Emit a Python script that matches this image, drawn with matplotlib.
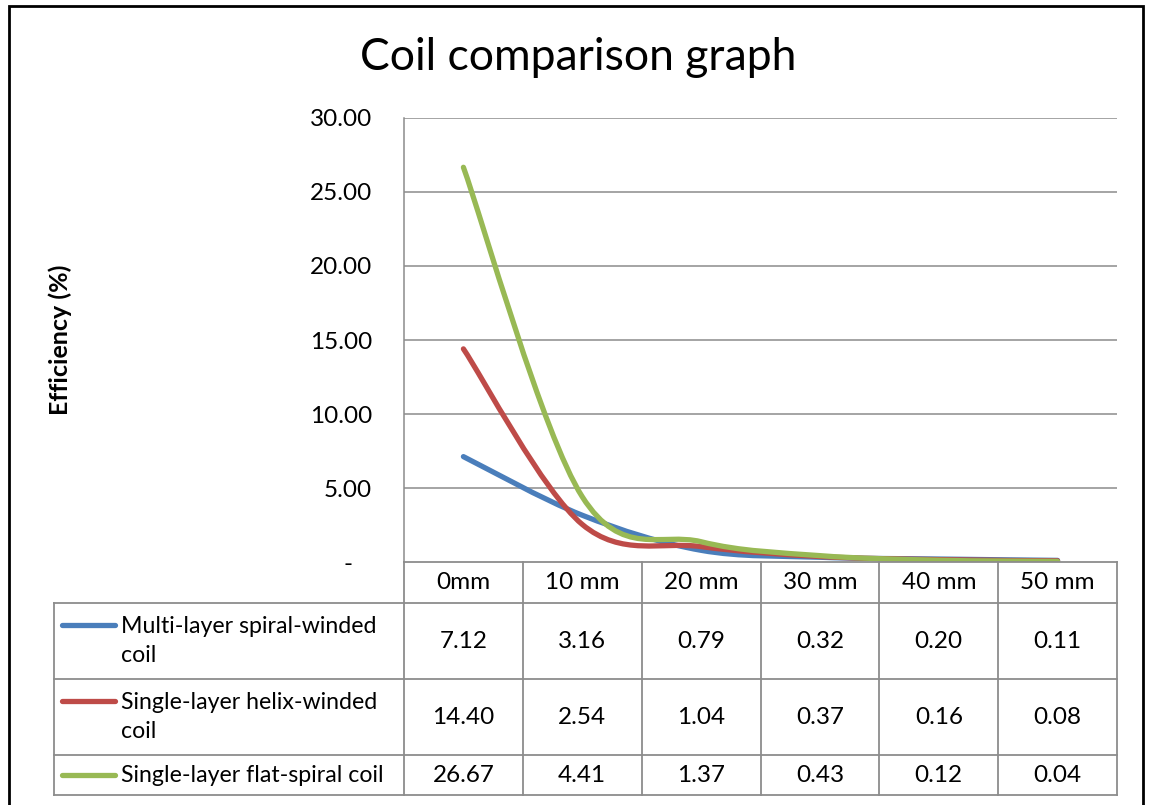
import numpy as np
import matplotlib
matplotlib.use("Agg")
import matplotlib.pyplot as plt
from matplotlib.path import Path
from matplotlib.patches import PathPatch, Rectangle
from matplotlib.lines import Line2D

plt.rcParams['font.family'] = ['Lato', 'DejaVu Sans']

# Data
distances = ['0mm', '10 mm', '20 mm', '30 mm', '40 mm', '50 mm']
multi_layer = [7.12, 3.16, 0.79, 0.32, 0.20, 0.11]
helix = [14.40, 2.54, 1.04, 0.37, 0.16, 0.08]
flat_spiral = [26.67, 4.41, 1.37, 0.43, 0.12, 0.04]
series_names = ['Multi-layer spiral-winded\ncoil',
                'Single-layer helix-winded\ncoil',
                'Single-layer flat-spiral coil']
series_colors = ['#4A7EBB', '#BE4B48', '#98B954']
yticks = [0, 5, 10, 15, 20, 25, 30]

W, H = 1149, 805
fig = plt.figure(figsize=(W / 100, H / 100), dpi=100)


def smooth_path(xs, ys):
    # Catmull-Rom style bezier segments, like a spreadsheet "smoothed line"
    pts = np.column_stack([xs, ys])
    verts = [pts[0]]
    codes = [Path.MOVETO]
    n = len(pts)
    for i in range(n - 1):
        p0 = pts[i - 1] if i > 0 else pts[i]
        p1, p2 = pts[i], pts[i + 1]
        p3 = pts[i + 2] if i + 2 < n else pts[i + 1]
        c1 = p1 + (p2 - p0) / 6.0
        c2 = p2 - (p3 - p1) / 6.0
        verts += [c1, c2, p2]
        codes += [Path.CURVE4] * 3
    return Path(verts, codes)


num_fs = 17.5
name_fs = 16.7

# plot area
px0, px1, py_top, py_bot = 404, 1117, 118, 562
ax = fig.add_axes([px0 / W, 1 - py_bot / H, (px1 - px0) / W, (py_bot - py_top) / H])
ncat = len(distances)
ax.set_xlim(0, ncat)
ax.set_ylim(0, 30)
ax.set_yticks(yticks)
ax.set_yticklabels(['-   ' if v == 0 else f'{v:.2f}' for v in yticks], fontsize=num_fs)
ax.tick_params(axis='y', length=0, pad=23)
ax.set_xticks([])
for v in yticks[1:]:
    ax.axhline(v, color='#8C8C8C', lw=1.1, zorder=1)
for s in ['top', 'right', 'bottom']:
    ax.spines[s].set_visible(False)
ax.spines['left'].set_color('#8C8C8C')
ax.spines['left'].set_linewidth(1.1)

xc = np.arange(ncat) + 0.5
for vals, col in zip([multi_layer, helix, flat_spiral], series_colors):
    ax.add_patch(PathPatch(smooth_path(xc, vals), fill=False, edgecolor=col,
                           lw=3.8, capstyle='round', zorder=3))

fig.text(60 / W, 1 - 340 / H, 'Efficiency (%)', rotation=90, ha='center', va='center',
         fontsize=18, fontweight='bold')
fig.text(578 / W, 1 - 58 / H, 'Coil comparison graph', ha='center', va='center', fontsize=32)

# data table below the plot area
tx0, ty_top, ty_bot = 54, 562, 795
col_w = (px1 - px0) / ncat
tab = fig.add_axes([tx0 / W, 1 - ty_bot / H, (px1 - tx0) / W, (ty_bot - ty_top) / H])
tab.set_xlim(-(px0 - tx0) / col_w, ncat)
row_h = [41, 76, 76, 40]
tab.set_ylim(sum(row_h), 0)
tab.axis('off')
grid_kw = dict(color='#8C8C8C', lw=1.3, clip_on=False)
edges = np.concatenate([[0], np.cumsum(row_h)])
left = -(px0 - tx0) / col_w
for k, y in enumerate(edges):
    x_start = 0 if k == 0 else left
    tab.add_line(Line2D([x_start, ncat], [y, y], **grid_kw))
for c in range(ncat + 1):
    tab.add_line(Line2D([c, c], [0, edges[-1]], **grid_kw))
tab.add_line(Line2D([left, left], [edges[1], edges[-1]], **grid_kw))

for c, lab in enumerate(distances):
    tab.text(c + 0.5, row_h[0] / 2, lab, ha='center', va='center', fontsize=num_fs)

for r, (vals, name, col) in enumerate(zip([multi_layer, helix, flat_spiral],
                                          series_names, series_colors)):
    yc = (edges[r + 1] + edges[r + 2]) / 2
    for c, v in enumerate(vals):
        tab.text(c + 0.5, yc, f'{v:.2f}', ha='center', va='center', fontsize=num_fs)
    nlines = name.count('\n') + 1
    y_first = yc - (nlines - 1) * 16
    tab.add_line(Line2D([left + 8 / col_w, left + 61 / col_w], [y_first, y_first],
                        color=col, lw=3.8, solid_capstyle='round', clip_on=False))
    tab.text(left + 67 / col_w, yc, name, ha='left', va='center', fontsize=name_fs,
             linespacing=1.5)

# outer chart border
fig.add_artist(Rectangle((9 / W, -0.02), (1143 - 9) / W, 1.02 - 6 / H, transform=fig.transFigure,
                         fill=False, edgecolor='black', lw=2))

fig.savefig('out.png', dpi=100)
